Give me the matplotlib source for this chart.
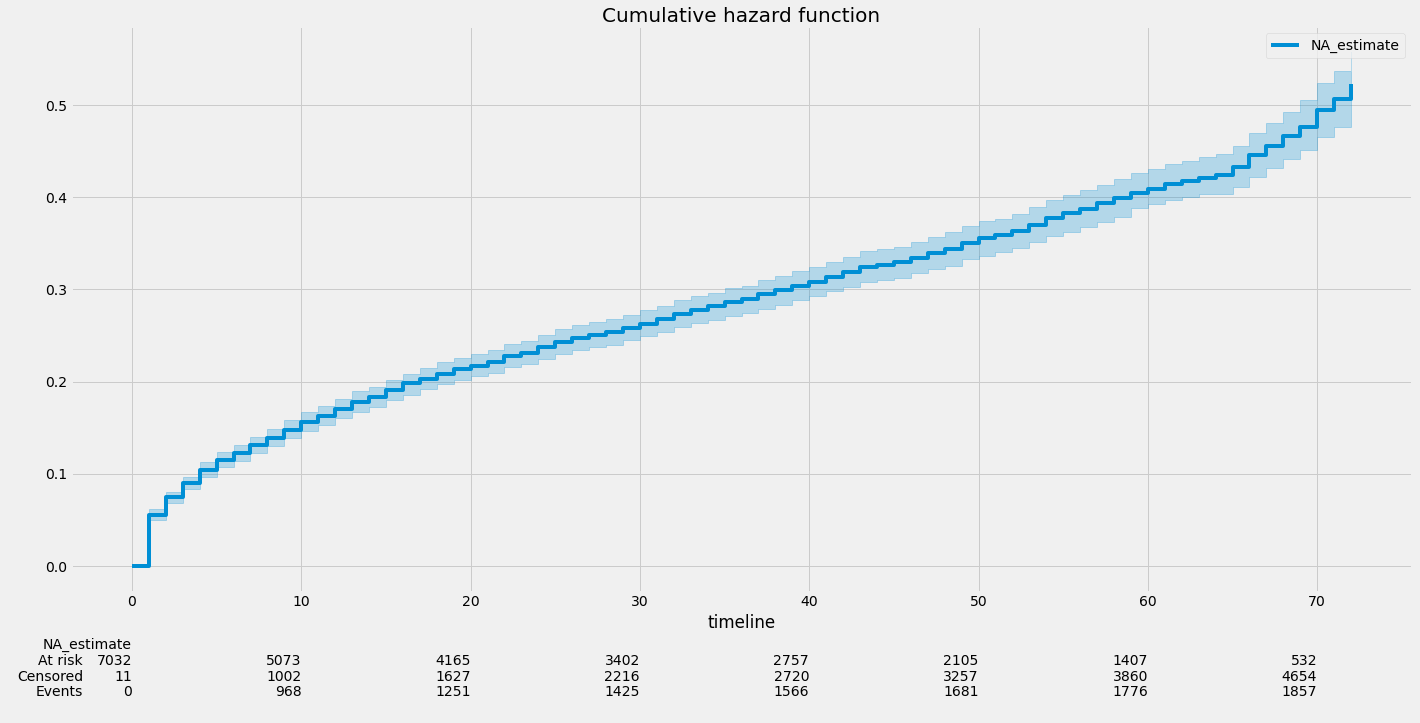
import matplotlib
matplotlib.use("Agg")
from matplotlib import pyplot as plt
import matplotlib.transforms as mtransforms

plt.style.use("fivethirtyeight")

# Nelson-Aalen estimate
timeline = [0, 1, 2, 3, 4, 5, 6, 7, 8, 9, 10, 11, 12, 13, 14, 15, 16, 17, 18, 19,
            20, 21, 22, 23, 24, 25, 26, 27, 28, 29, 30, 31, 32, 33, 34, 35, 36, 37, 38, 39,
            40, 41, 42, 43, 44, 45, 46, 47, 48, 49, 50, 51, 52, 53, 54, 55, 56, 57, 58, 59,
            60, 61, 62, 63, 64, 65, 66, 67, 68, 69, 70, 71, 72]

na_estimate = [0.0, 0.0557, 0.0752, 0.0897, 0.104, 0.115, 0.123, 0.131, 0.139, 0.1475,
               0.156, 0.163, 0.170, 0.178, 0.1836, 0.191, 0.198, 0.203, 0.2086, 0.2137,
               0.2173, 0.2213, 0.228, 0.2314, 0.2375, 0.243, 0.2473, 0.2502, 0.2541, 0.258,
               0.2628, 0.268, 0.2733, 0.2777, 0.2817, 0.2867, 0.2896, 0.295, 0.2993, 0.3033,
               0.308, 0.3138, 0.3185, 0.3246, 0.3268, 0.3297, 0.334, 0.3395, 0.3438, 0.35,
               0.3557, 0.3587, 0.3635, 0.3702, 0.3778, 0.3825, 0.3876, 0.3934, 0.3991, 0.4049,
               0.4092, 0.4147, 0.4179, 0.4212, 0.4241, 0.4331, 0.4458, 0.4555, 0.4667, 0.4765,
               0.4946, 0.5062, 0.5224]

ci_upper = [0.0, 0.0615, 0.0806, 0.0969, 0.1124, 0.1233, 0.1309, 0.1403, 0.1482, 0.158,
            0.1667, 0.1735, 0.1808, 0.1895, 0.194, 0.2015, 0.2085, 0.2144, 0.2209, 0.2252,
            0.2296, 0.2339, 0.2404, 0.2437, 0.2502, 0.2567, 0.261, 0.2643, 0.2676, 0.2719,
            0.2777, 0.2817, 0.2882, 0.2925, 0.2961, 0.3012, 0.304, 0.3099, 0.3142, 0.3196,
            0.324, 0.3294, 0.3348, 0.3413, 0.3435, 0.3457, 0.3511, 0.3572, 0.3623, 0.3684,
            0.3742, 0.3767, 0.382, 0.389, 0.3966, 0.402, 0.4078, 0.4136, 0.4197, 0.4259,
            0.4302, 0.4357, 0.4396, 0.4433, 0.4465, 0.4555, 0.4693, 0.4808, 0.4928, 0.5051,
            0.5235, 0.5365, 0.558]

ci_lower = [0.0, 0.0499, 0.068, 0.0832, 0.0962, 0.107, 0.1139, 0.1229, 0.1305, 0.1385,
            0.1468, 0.1526, 0.160, 0.1674, 0.1728, 0.180, 0.186, 0.1916, 0.1974, 0.2014,
            0.2057, 0.209, 0.2162, 0.2187, 0.2242, 0.2296, 0.2343, 0.2372, 0.240, 0.2448,
            0.2491, 0.2535, 0.2589, 0.2632, 0.2668, 0.2710, 0.274, 0.279, 0.2834, 0.2882,
            0.2928, 0.2983, 0.3026, 0.3077, 0.3099, 0.3127, 0.3174, 0.3225, 0.3257, 0.3326,
            0.3366, 0.3406, 0.3452, 0.3512, 0.3576, 0.3626, 0.368, 0.3731, 0.3789, 0.388,
            0.3923, 0.397, 0.4006, 0.4030, 0.4035, 0.4114, 0.4216, 0.4313, 0.4411, 0.4512,
            0.4656, 0.4765, 0.4765]

# at risk table
table_ticks = [0, 10, 20, 30, 40, 50, 60, 70]
at_risk = [7032, 5073, 4165, 3402, 2757, 2105, 1407, 532]
censored = [11, 1002, 1627, 2216, 2720, 3257, 3860, 4654]
events = [0, 968, 1251, 1425, 1566, 1681, 1776, 1857]

color = "#008fd5"
W, H = 1420, 723
fig = plt.figure(figsize=(W / 72, H / 72), dpi=72)
fig.patch.set_facecolor("#f0f0f0")
ax = fig.add_axes([71 / W, 1 - 592 / H, (1412 - 71) / W, (592 - 26) / H])

ax.fill_between(timeline, ci_lower, ci_upper, step="post", color=color,
                alpha=0.25, linewidth=1.0)
ax.plot(timeline, na_estimate, drawstyle="steps-post", color=color,
        linewidth=4, label="NA_estimate")

ax.set_xlim(-3.6, 75.6)
ax.set_ylim(-0.0282, 0.5857)
ax.set_xticks(table_ticks)
ax.set_yticks([0.0, 0.1, 0.2, 0.3, 0.4, 0.5])
ax.tick_params(labelsize=14, colors="black")
ax.set_title("Cumulative hazard function", fontsize=20, pad=3)
ax.set_xlabel("timeline", fontsize=16.8, labelpad=4)
ax.legend(loc="upper right", fontsize=14)

# rows of the table, placed by data x and figure y
trans = mtransforms.blended_transform_factory(ax.transData, fig.transFigure)
rows = [("At risk", at_risk, 661), ("Censored", censored, 677), ("Events", events, 692)]
ax.text(0, 1 - 645 / H, "NA_estimate", transform=trans, ha="right", va="center",
        fontsize=14, clip_on=False)
for name, vals, ypx in rows:
    yy = 1 - ypx / H
    ax.annotate(name, xy=(0, yy), xycoords=trans, xytext=(-49, 0),
                textcoords="offset points", ha="right", va="center", fontsize=14,
                annotation_clip=False)
    for tx, v in zip(table_ticks, vals):
        ax.text(tx, yy, str(v), transform=trans, ha="right", va="center",
                fontsize=14, clip_on=False)

fig.savefig("out.png", dpi=72, facecolor=fig.get_facecolor())
